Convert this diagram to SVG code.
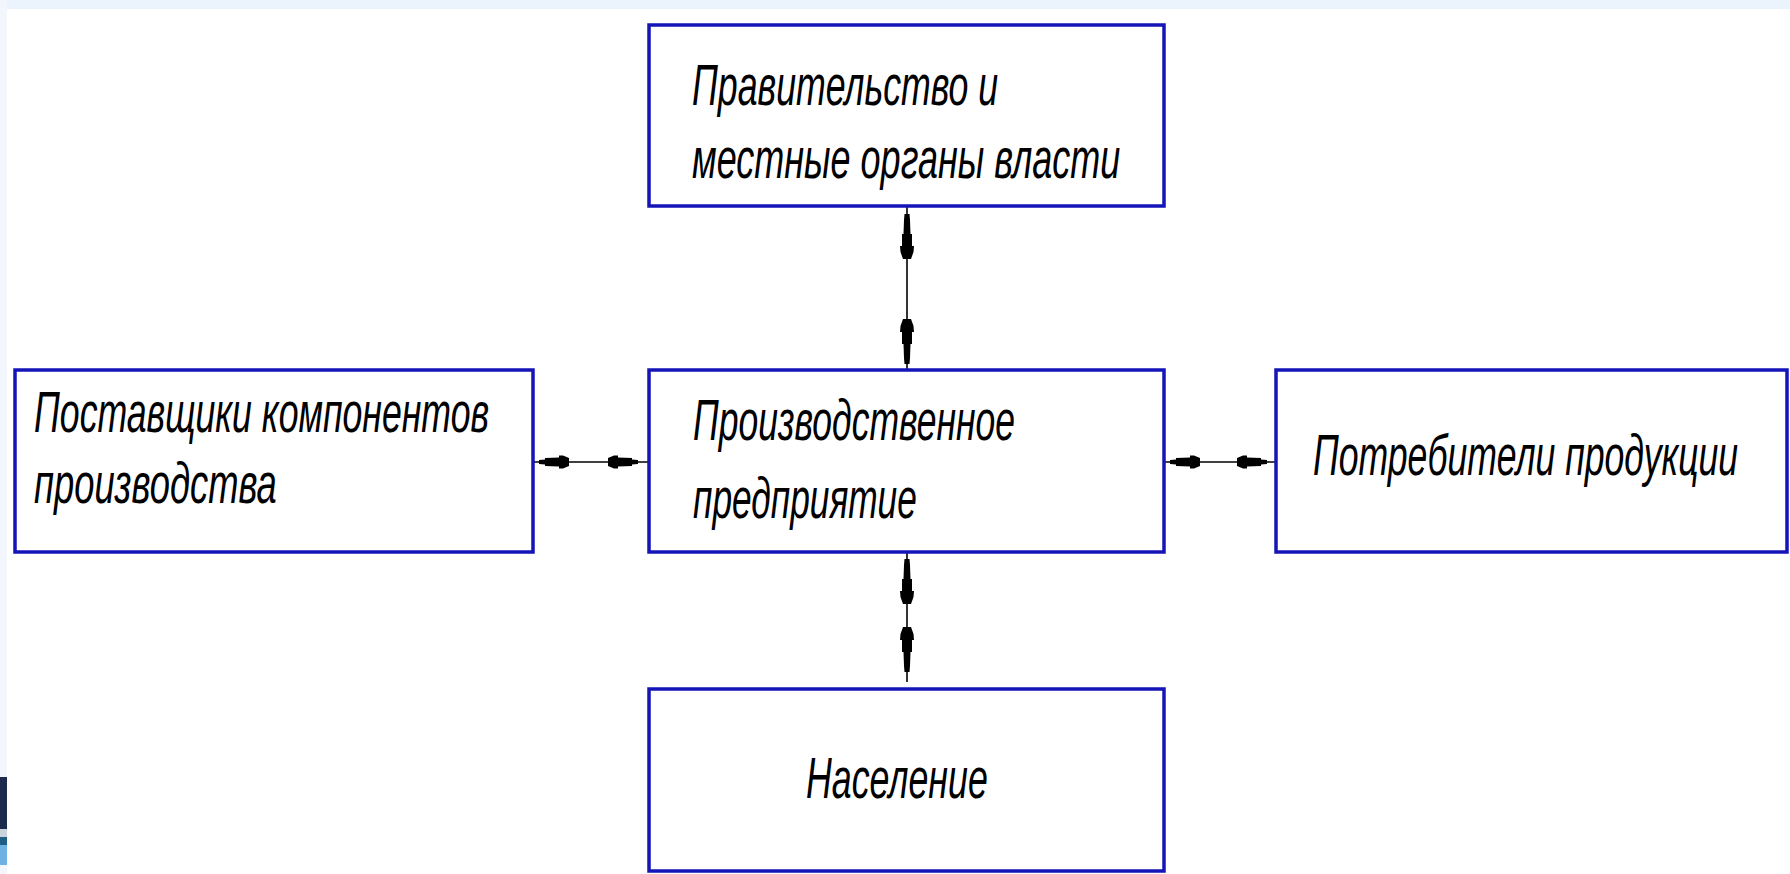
<svg xmlns="http://www.w3.org/2000/svg" xmlns:xlink="http://www.w3.org/1999/xlink" width="1790" height="874" viewBox="0 0 1790 874">
<style>
.box{fill:#ffffff;stroke:#1414b8;stroke-width:3.5}
.t{font-family:"Liberation Sans","DejaVu Sans",sans-serif;font-style:italic;font-size:58px;fill:#000000}
.ln{stroke:#000000;stroke-width:1.6;fill:none}
.ah{fill:#000000}
</style>
<defs>
<path id="ah" d="M0,-2 L-6,-2.5 L-6,-4 L-20,-4.5 L-20,-6.5 L-24,-6.5 L-30,-4 L-30,4 L-24,6.5 L-20,6.5 L-20,4.5 L-6,4 L-6,2.5 L0,2 Z"/>
<path id="av" d="M0,-2.5 L-6,-3 L-20,-3.5 L-20,-5 L-32,-5 L-32,-7 L-38,-6.5 L-45,-4 L-45,4 L-38,6.5 L-32,7 L-32,5 L-20,5 L-20,3.5 L-6,3 L0,2.5 Z"/>
</defs>
<rect x="0" y="0" width="1790" height="874" fill="#ffffff"/>
<rect x="0" y="0" width="1790" height="9" fill="#ebf3fd"/>
<rect x="0" y="0" width="7" height="874" fill="#f3f7fd"/>
<g id="logo-fragment">
<rect x="0" y="777" width="7" height="52" fill="#1c2b4c"/>
<rect x="0" y="829" width="7" height="8" fill="#c9d3dc"/>
<rect x="0" y="837" width="7" height="8" fill="#1f5f86"/>
<rect x="0" y="845" width="7" height="20" fill="#6db2e3"/>
</g>
<g id="connectors">
<line class="ln" x1="907" y1="207" x2="907" y2="370"/>
<use href="#av" class="ah" transform="translate(907,214) rotate(-90)"/>
<use href="#av" class="ah" transform="translate(907,364) rotate(90)"/>
<line class="ln" x1="907" y1="552" x2="907" y2="682"/>
<use href="#av" class="ah" transform="translate(907,559) rotate(-90)"/>
<use href="#av" class="ah" transform="translate(907,672) rotate(90)"/>
<line class="ln" x1="533" y1="462" x2="648" y2="462"/>
<use href="#ah" class="ah" transform="translate(539,462) rotate(180)"/>
<use href="#ah" class="ah" transform="translate(638,462)"/>
<line class="ln" x1="1164" y1="462" x2="1275" y2="462"/>
<use href="#ah" class="ah" transform="translate(1170,462) rotate(180)"/>
<use href="#ah" class="ah" transform="translate(1267,462)"/>
</g>
<g id="node-government">
<rect class="box" x="649" y="25" width="515" height="181"/>
<text class="t" transform="translate(692,105) scale(0.61,1)" x="0" y="0" textLength="502" lengthAdjust="spacingAndGlyphs">Правительство и</text>
<text class="t" transform="translate(692,178) scale(0.61,1)" x="0" y="0" textLength="702" lengthAdjust="spacingAndGlyphs">местные органы власти</text>
</g>
<g id="node-suppliers">
<rect class="box" x="15" y="370" width="518" height="182"/>
<text class="t" transform="translate(34,432) scale(0.61,1)" x="0" y="0" textLength="746" lengthAdjust="spacingAndGlyphs">Поставщики компонентов</text>
<text class="t" transform="translate(34,503) scale(0.61,1)" x="0" y="0" textLength="398" lengthAdjust="spacingAndGlyphs">производства</text>
</g>
<g id="node-enterprise">
<rect class="box" x="649" y="370" width="515" height="182"/>
<text class="t" transform="translate(693,440) scale(0.61,1)" x="0" y="0" textLength="528" lengthAdjust="spacingAndGlyphs">Производственное</text>
<text class="t" transform="translate(693,518) scale(0.61,1)" x="0" y="0" textLength="367" lengthAdjust="spacingAndGlyphs">предприятие</text>
</g>
<g id="node-consumers">
<rect class="box" x="1276" y="370" width="511" height="182"/>
<text class="t" transform="translate(1313,475) scale(0.61,1)" x="0" y="0" textLength="697" lengthAdjust="spacingAndGlyphs">Потребители продукции</text>
</g>
<g id="node-population">
<rect class="box" x="649" y="689" width="515" height="182"/>
<text class="t" transform="translate(806,798) scale(0.61,1)" x="0" y="0" textLength="298" lengthAdjust="spacingAndGlyphs">Население</text>
</g>
</svg>
